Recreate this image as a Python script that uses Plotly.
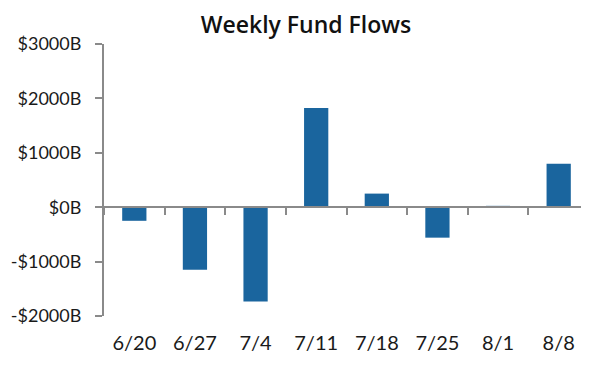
import plotly.graph_objects as go

weeks = ["6/20", "6/27", "7/4", "7/11", "7/18", "7/25", "8/1", "8/8"]
flows = [-250, -1150, -1735, 1825, 250, -560, 25, 800]
y_ticks = [3000, 2000, 1000, 0, -1000, -2000]
y_tick_labels = ["$3000B", "$2000B", "$1000B", "$0B", "-$1000B", "-$2000B"]

axis_gray = "#8a8a8a"
bar_blue = "#1a659e"
font_fam = "Lato, 'Noto Sans', sans-serif"

# page body has an 8px default margin; size the figure so the plot lands where the reference has it
W, H = 581, 367

fig = go.Figure()
fig.add_trace(go.Bar(x=weeks, y=flows, marker=dict(color=bar_blue, line=dict(width=0)),
                     xaxis="x", yaxis="y", showlegend=False))
# invisible trace to carry the zero-line axis with boundary ticks
fig.add_trace(go.Scatter(x=weeks, y=[0]*len(weeks), mode="markers", marker=dict(opacity=0),
                         xaxis="x2", yaxis="y", showlegend=False, hoverinfo="skip"))

fig.update_layout(
    width=W, height=H,
    margin=dict(l=96, r=0, t=36, b=59, autoexpand=False),
    paper_bgcolor="white", plot_bgcolor="white",
    bargap=0.6,
    title=dict(text="Weekly Fund Flows", x=(306 - 8) / W, xanchor="center",
               y=1 - 17 / H, yanchor="middle",
               font=dict(family="'Open Sans', Lato, sans-serif", size=23, weight=600,
                         color="#111111")),
    font=dict(family=font_fam, size=18, color="#1a1a1a"),
    xaxis=dict(type="category", range=[-0.5, 7.5], showline=False, showgrid=False, zeroline=False,
               ticks="", tickfont=dict(size=20), ticklabelstandoff=13, automargin=False),
    xaxis2=dict(type="category", overlaying="x", anchor="free", position=0.4, matches="x",
                range=[-0.5, 7.5], showline=True, linecolor=axis_gray, linewidth=2,
                ticks="outside", tickson="boundaries", ticklen=7, tickwidth=2, tickcolor=axis_gray,
                showticklabels=False, showgrid=False, zeroline=False, side="bottom"),
    yaxis=dict(range=[-2000, 3000], tickvals=y_ticks, ticktext=y_tick_labels,
               showline=True, linecolor=axis_gray, linewidth=2, ticks="outside", ticklen=7,
               tickwidth=2, tickcolor=axis_gray, showgrid=False, zeroline=False,
               tickfont=dict(size=18), ticklabelstandoff=10, automargin=False),
)

fig.write_html("out.html")
